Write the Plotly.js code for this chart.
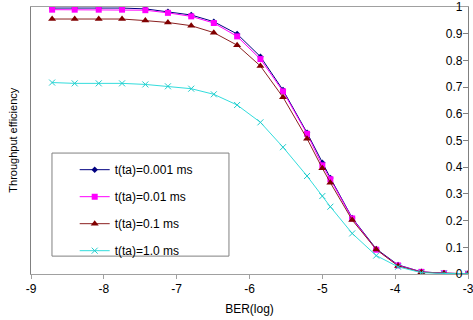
<!DOCTYPE html>
<html>
<head>
<meta charset="utf-8">
<script src="https://cdn.plot.ly/plotly-3.0.1.min.js"></script>
<style>
  html, body { margin: 0; padding: 0; background: #ffffff; }
  #chart { width: 473px; height: 320px; }
</style>
</head>
<body>
<div id="chart"></div>
<script>
// BER (log10) sample positions
const berLog = [-8.71, -8.40, -8.07, -7.75, -7.43, -7.12, -6.80, -6.49, -6.17, -5.85,
                -5.54, -5.21, -5.00, -4.89, -4.59, -4.26, -3.96, -3.64, -3.33, -3.00];

// Throughput efficiency per turnaround time
const eff0001 = [0.996, 0.996, 0.996, 0.996, 0.993, 0.982, 0.970, 0.945, 0.899, 0.814,
                 0.689, 0.529, 0.417, 0.360, 0.210, 0.094, 0.034, 0.008, 0.003, 0.001];
const eff001  = [0.990, 0.990, 0.990, 0.990, 0.988, 0.978, 0.965, 0.940, 0.890, 0.805,
                 0.684, 0.525, 0.407, 0.355, 0.208, 0.091, 0.032, 0.008, 0.003, 0.001];
const eff01   = [0.955, 0.955, 0.955, 0.955, 0.949, 0.942, 0.930, 0.904, 0.857, 0.779,
                 0.662, 0.507, 0.396, 0.342, 0.202, 0.092, 0.030, 0.007, 0.003, 0.001];
const eff10   = [0.717, 0.714, 0.714, 0.714, 0.710, 0.703, 0.694, 0.673, 0.633, 0.568,
                 0.475, 0.367, 0.292, 0.252, 0.152, 0.069, 0.027, 0.005, 0.002, 0.001];

const seriesNames = ["t(ta)=0.001 ms", "t(ta)=0.01 ms", "t(ta)=0.1 ms", "t(ta)=1.0 ms"];

const xTickVals = [-9, -8, -7, -6, -5, -4, -3];
const xTickText = ["-9", "-8", "-7", "-6", "-5", "-4", "-3"];

const FONT = '"Liberation Sans", Arial, sans-serif';

const traces = [
  { x: berLog, y: eff0001, name: seriesNames[0], legendgroup: 'a', mode: 'lines+markers',
    line: { color: '#000080', width: 1 },
    marker: { symbol: 'diamond', size: 5, color: '#000080' } },
  { x: berLog, y: eff001, name: seriesNames[1], legendgroup: 'b', mode: 'lines+markers',
    line: { color: '#FF00FF', width: 1 },
    marker: { symbol: 'square', size: 6, color: '#FF00FF' } },
  { x: berLog, y: eff01, name: seriesNames[2], legendgroup: 'c', mode: 'lines+markers',
    line: { color: '#8B2020', width: 1 },
    marker: { symbol: 'triangle-up', size: 7, color: '#800000' } },
  { x: berLog, y: eff10, name: seriesNames[3], legendgroup: 'd', mode: 'lines+markers',
    line: { color: '#33DDDD', width: 1 },
    marker: { symbol: 'x-thin', size: 6, color: '#22CCCC', line: { color: '#22CCCC', width: 1 } } }
];

const layout = {
  width: 473, height: 320,
  margin: { l: 31, r: 5, t: 7, b: 46 },
  paper_bgcolor: '#ffffff', plot_bgcolor: '#ffffff',
  font: { family: FONT, size: 12, color: '#000000' },
  showlegend: true,
  legend: {
    x: 0.10, xanchor: 'left', y: 0.445, yanchor: 'top',
    bgcolor: 'rgba(0,0,0,0)', borderwidth: 0,
    tracegroupgap: 8,
    font: { family: FONT, size: 12, color: '#000000' }
  },
  xaxis: {
    range: [-9, -3], tickmode: 'array', tickvals: xTickVals, ticktext: xTickText,
    showgrid: false, zeroline: false,
    showline: true, linecolor: '#a0a0a0', linewidth: 1, mirror: true,
    ticks: 'outside', ticklen: 4, tickcolor: '#a0a0a0',
    ticklabeloverflow: 'allow',
    tickfont: { family: FONT, size: 12, color: '#000000' },
    title: { text: 'BER(log)', font: { family: FONT, size: 12, color: '#000000' }, standoff: 9 }
  },
  yaxis: {
    range: [0, 1], side: 'right', dtick: 0.1, tick0: 0,
    showgrid: false, zeroline: false,
    showline: true, linecolor: '#808080', linewidth: 1, mirror: true,
    ticks: 'inside', ticklen: 5, tickcolor: '#808080',
    ticklabelposition: 'inside', ticklabeloverflow: 'allow',
    tickfont: { family: FONT, size: 12, color: '#000000' }
  },
  shapes: [
    { type: 'rect', xref: 'paper', yref: 'paper', x0: 0.048, x1: 0.453, y0: 0.067, y1: 0.453,
      line: { color: '#808080', width: 1 }, fillcolor: 'rgba(0,0,0,0)', layer: 'above' }
  ],
  annotations: [
    { text: 'Throughput efficiency', xref: 'paper', yref: 'paper', x: -0.043, y: 0.5,
      xanchor: 'center', yanchor: 'middle', textangle: -90, showarrow: false,
      font: { family: FONT, size: 11, color: '#000000' } }
  ]
};

Plotly.newPlot('chart', traces, layout, { displayModeBar: false, staticPlot: true });
</script>
</body>
</html>
